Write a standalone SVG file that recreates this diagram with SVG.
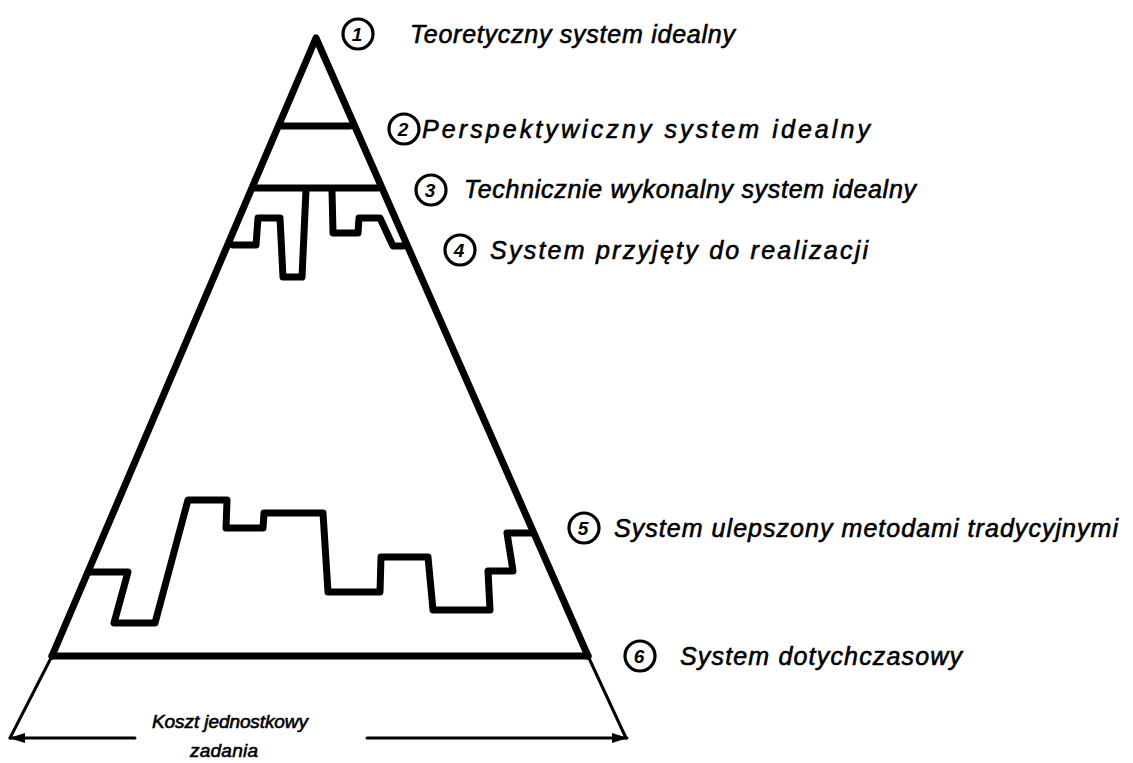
<svg xmlns="http://www.w3.org/2000/svg" width="1133" height="763" viewBox="0 0 1133 763">
  <style>
    .thick { fill: none; stroke: #000; stroke-width: 7; stroke-linejoin: round; stroke-linecap: round; }
    .thin { fill: none; stroke: #000; stroke-width: 3; stroke-linecap: round; }
    .num { fill: none; stroke: #000; stroke-width: 3.2; }
    .lbl { font-family: "Liberation Sans", Arial, sans-serif; font-style: italic; font-size: 25px; fill: #000; stroke: #000; stroke-width: 0.6; }
    .small { font-size: 19px; }
    .dig { font-family: "Liberation Sans", Arial, sans-serif; font-style: italic; font-weight: bold; font-size: 19px; fill: #000; text-anchor: middle; }
  </style>
  <defs>
    <marker id="arrowEnd" viewBox="0 0 16 10" refX="15" refY="5" markerWidth="16" markerHeight="10" markerUnits="userSpaceOnUse" orient="auto">
      <path d="M0,0 L16,5 L0,10 Z" fill="#000"/>
    </marker>
    <marker id="arrowStart" viewBox="0 0 16 10" refX="1" refY="5" markerWidth="16" markerHeight="10" markerUnits="userSpaceOnUse" orient="auto">
      <path d="M16,0 L0,5 L16,10 Z" fill="#000"/>
    </marker>
  </defs>
  <rect width="1133" height="763" fill="#fff"/>

  <!-- pyramid outline and level boundaries -->
  <g id="pyramid">
    <path class="thick" d="M52,656 L316,38 L588,656"/>
    <path class="thick" d="M52,656 L588,656"/>
    <path class="thin" d="M52,656 L10,738"/>
    <path class="thin" d="M588,656 L626,738"/>
    <path class="thick" d="M281,126 L350,126"/>
    <path class="thick" d="M254,188 L378,188"/>
  </g>

  <!-- level 4 boundary (accepted system) -->
  <g id="level4">
    <path class="thick" d="M233,245 L256,245 L258,218 L280,218 L283,277 L302,277 L306,190"/>
    <path class="thick" d="M332,190 L333,233 L358,233 L359,218 L380,218 L393,246 L403,246"/>
  </g>

  <!-- level 5 boundary (improved system) -->
  <g id="level5">
    <path class="thick" d="M89,572 L128,572 L114,623 L155,623 L188,500 L227,500 L226,528 L263,528 L264,513 L323,513 L328,592 L380,592 L381,557 L428,557 L433,610 L490,610 L488,571 L513,571 L507,533 L532,533"/>
  </g>

  <!-- labels -->
  <g id="label1">
    <circle class="num" cx="358" cy="34" r="15"/>
    <text class="dig" x="357" y="41">1</text>
    <text class="lbl" x="410" y="43" textLength="325" lengthAdjust="spacing">Teoretyczny system idealny</text>
  </g>
  <g id="label2">
    <circle class="num" cx="404" cy="129" r="15"/>
    <text class="dig" x="403" y="136">2</text>
    <text class="lbl" x="422" y="138" textLength="448" lengthAdjust="spacing">Perspektywiczny  system idealny</text>
  </g>
  <g id="label3">
    <circle class="num" cx="431" cy="190" r="15"/>
    <text class="dig" x="430" y="197">3</text>
    <text class="lbl" x="464" y="198" textLength="452" lengthAdjust="spacing">Technicznie wykonalny system idealny</text>
  </g>
  <g id="label4">
    <circle class="num" cx="460" cy="250" r="15"/>
    <text class="dig" x="459" y="257">4</text>
    <text class="lbl" x="490" y="259" textLength="378" lengthAdjust="spacing">System przyjęty do realizacji</text>
  </g>
  <g id="label5">
    <circle class="num" cx="584" cy="528" r="15"/>
    <text class="dig" x="583" y="535">5</text>
    <text class="lbl" x="614" y="537" textLength="504" lengthAdjust="spacing">System ulepszony metodami tradycyjnymi</text>
  </g>
  <g id="label6">
    <circle class="num" cx="640" cy="656" r="15"/>
    <text class="dig" x="639" y="663">6</text>
    <text class="lbl" x="680" y="665" textLength="282" lengthAdjust="spacing">System dotychczasowy</text>
  </g>

  <!-- base width dimension -->
  <g id="connectors">
    <path class="thin" d="M10,738 L135,738" marker-start="url(#arrowStart)"/>
    <path class="thin" d="M367,738 L627,738" marker-end="url(#arrowEnd)"/>
  </g>
  <g id="cost-label">
    <text class="lbl small" x="152" y="728" textLength="156" lengthAdjust="spacing">Koszt jednostkowy</text>
    <text class="lbl small" x="190" y="757" textLength="68" lengthAdjust="spacing">zadania</text>
  </g>
</svg>
